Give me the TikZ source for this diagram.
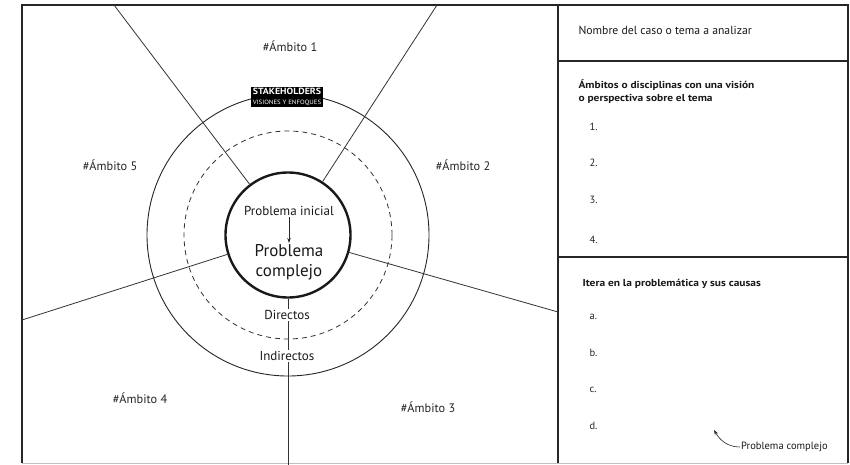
\documentclass[tikz,border=0pt]{standalone}
\usepackage{fontspec}
\setmainfont{PT Sans}
\newfontfamily\headfont[FakeStretch=1.13]{PT Sans}
\newfontfamily\stakefont[FakeStretch=1.1]{PT Sans}
\usetikzlibrary{arrows.meta}
\begin{document}
\begin{tikzpicture}[x=1pt,y=-1pt,
  frameline/.style={draw=black!85, line width=1.3pt},
  spoke/.style={draw=black!80, line width=0.8pt},
  ring/.style={draw=black!85, line width=0.9pt},
  dashring/.style={draw=black!80, line width=0.8pt, dash pattern=on 5pt off 4pt},
  ambito/.style={font=\fontsize{12.3}{14}\selectfont, text=black!85},
  inner/.style={font=\fontsize{13}{15}\selectfont, text=black!90, inner sep=1.5pt},
  paneltext/.style={anchor=west, font=\fontsize{11.7}{13}\selectfont, text=black!90},
  heading/.style={anchor=west, align=left, font=\headfont\bfseries\fontsize{10.1}{13}\selectfont, text=black!90},
  itemlbl/.style={anchor=west, font=\fontsize{10.5}{12}\selectfont, text=black!85},
  arr/.style={-{Stealth[length=5pt,width=3.5pt]}, draw=black!85, line width=0.7pt}]
\useasboundingbox (0,0) rectangle (850,465);
\fill[white] (0,0) rectangle (850,465);

% frame and panel
\draw[frameline] (22,463) -- (22,5) -- (848,5) -- (848,463);
\draw[draw=black!25, line width=0.8pt] (22,463) -- (848,463);
\draw[frameline] (558,5) -- (558,463);
\draw[frameline] (558,61) -- (848,61);
\draw[frameline] (558,257) -- (848,257);

% circles
\coordinate (c) at (288,235);
\draw[ring] (c) circle (141pt);
\draw[dashring] (c) circle (104pt);
\node[circle, draw=black!90, line width=2.4pt, minimum size=125pt, inner sep=0pt] (pc) at (c) {};

% spokes
\coordinate (e1) at (114,5);
\coordinate (e2) at (437,5);
\coordinate (e3) at (558,312);
\coordinate (e4) at (288,465);
\coordinate (e5) at (22,320);
\draw[spoke] (pc) -- (e1);
\draw[spoke] (pc) -- (e2);
\draw[spoke] (pc) -- (e3);
\draw[spoke] (pc) -- (e4);
\draw[spoke] (pc) -- (e5);

% stakeholders label
\node[fill=black, text=white, inner xsep=2pt, inner ysep=1pt, align=center] (sh) at (287,97)
  {{\stakefont\bfseries\fontsize{9}{9}\selectfont STAKEHOLDERS}\\[-2.5pt]{\stakefont\fontsize{6.2}{6.5}\selectfont VISIONES Y ENFOQUES}};

% ambitos
\node[ambito] (a1) at (290,46) {\#Ámbito 1};
\node[ambito] (a2) at (463,165) {\#Ámbito 2};
\node[ambito] (a3) at (428,407) {\#Ámbito 3};
\node[ambito] (a4) at (140,398) {\#Ámbito 4};
\node[ambito] (a5) at (110,165) {\#Ámbito 5};

% inner texts
\node[inner] (pi) at (289,211) {Problema inicial};
\node[align=center, font=\fontsize{17}{20}\selectfont, text=black!90, inner sep=1pt] (pcx) at (289,262) {Problema\\complejo};
\draw[arr] (pi) -- (pcx);
\node[inner, fill=white] (dir) at (287,315) {Directos};
\node[inner, fill=white] (ind) at (287,356) {Indirectos};

% right panel
\node[paneltext] (nom) at (575,30) {Nombre del caso o tema a analizar};
\node[heading] (amb) at (575,92) {Ámbitos o disciplinas con una visión\\o perspectiva sobre el tema};
\node[itemlbl] (n1) at (586,127) {1.};
\node[itemlbl] (n2) at (586,163) {2.};
\node[itemlbl] (n3) at (586,200) {3.};
\node[itemlbl] (n4) at (586,240) {4.};
\node[heading] (ite) at (579,284) {Itera en la problemática y sus causas};
\node[itemlbl] (la) at (586,317) {a.};
\node[itemlbl] (lb) at (586,353) {b.};
\node[itemlbl] (lc) at (586,390) {c.};
\node[itemlbl] (ld) at (586,426) {d.};
\node[anchor=west, font=\fontsize{10.5}{11}\selectfont, text=black!90, inner sep=1pt] (lbl) at (740,447) {Problema complejo};
\coordinate (tip) at (714,430);
\draw[arr, line width=0.6pt] (lbl.west) to[out=180, in=-60] (tip);
\end{tikzpicture}
\end{document}
